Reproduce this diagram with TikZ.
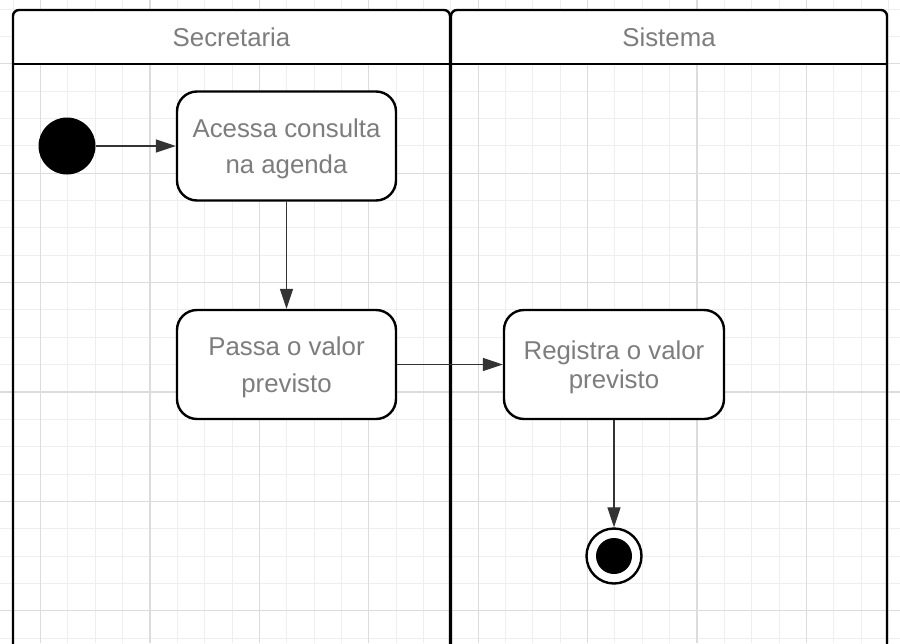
\documentclass[tikz,border=0pt]{standalone}
\usepackage{fontspec}
\setmainfont{Liberation Sans}
\usetikzlibrary{arrows.meta}
\definecolor{txt}{RGB}{125,125,125}
\definecolor{gminor}{RGB}{238,238,238}
\definecolor{gmajor}{RGB}{220,220,220}
\definecolor{arr}{RGB}{51,51,51}
\begin{document}
\begin{tikzpicture}[x=1pt,y=-1pt,
  lane/.style={draw=black,line width=2.4pt},
  hdr/.style={text=txt,font=\fontsize{25.8}{30}\selectfont,anchor=base,inner sep=0pt},
  act/.style={draw=black,line width=2.4pt,fill=white,rounded corners=20pt,
    minimum width=219pt,minimum height=109pt,align=center,text=txt,inner sep=0pt},
  flow/.style={draw=arr,line width=1.3pt,-{Triangle[length=20pt,width=13pt]}},
  startst/.style={circle,fill=black,minimum size=57pt,inner sep=0pt},
  endst/.style={circle,draw=black,line width=2.4pt,fill=white,minimum size=55pt,inner sep=0pt},
  endin/.style={circle,fill=black,minimum size=36pt,inner sep=0pt}]
\useasboundingbox (0,0) rectangle (900,643);
\clip (0,0) rectangle (900,643);
\fill[white] (0,0) rectangle (900,643);
% grid
\foreach \i in {0,...,32}{
  \pgfmathsetmacro\xx{13.25+27.35*\i}
  \pgfmathtruncatemacro\m{mod(\i,4)}
  \ifnum\m=1\relax\else\draw[gminor,line width=1pt] (\xx,0) -- (\xx,643);\fi
}
\foreach \j in {0,...,23}{
  \pgfmathsetmacro\yy{9.1+27.35*\j}
  \pgfmathtruncatemacro\m{mod(\j,4)}
  \ifnum\m=2\relax\else\draw[gminor,line width=1pt] (0,\yy) -- (900,\yy);\fi
}
\foreach \i in {1,5,...,29}{
  \pgfmathsetmacro\xx{13.25+27.35*\i}
  \draw[gmajor,line width=1.2pt] (\xx,0) -- (\xx,643);
}
\foreach \j in {2,6,...,22}{
  \pgfmathsetmacro\yy{9.1+27.35*\j}
  \draw[gmajor,line width=1.2pt] (0,\yy) -- (900,\yy);
}
% swimlane headers
\begin{scope}
  \clip (0,0) rectangle (900,64);
  \fill[white,rounded corners=6pt] (13,10) rectangle (450,90);
  \fill[white,rounded corners=6pt] (451,10) rectangle (887,90);
\end{scope}
\draw[lane,rounded corners=6pt] (13,700) -- (13,10) -- (450,10) -- (450,700);
\draw[lane,rounded corners=6pt] (451,700) -- (451,10) -- (887,10) -- (887,700);
\draw[lane] (13,64) -- (450,64);
\draw[lane] (451,64) -- (887,64);
\node[hdr] (h1) at (231.5,46.7) {Secretaria};
\node[hdr] (h2) at (669,46.7) {Sistema};
% nodes
\node[startst] (start) at (67,146) {};
\node[act,font=\fontsize{25.8}{35.5}\selectfont] (a1) at (286.5,146)
  {\rule{0pt}{24pt}Acessa consulta\\na agenda};
\node[act,font=\fontsize{25.8}{36.5}\selectfont] (a2) at (286.5,364.5)
  {\rule{0pt}{24pt}Passa o valor\\previsto};
\node[act,font=\fontsize{25.8}{29}\selectfont,minimum width=220pt] (a3) at (614,364.5)
  {\rule{0pt}{24pt}Registra o valor\\previsto};
\node[endst] (fin) at (614,556) {};
\node[endin] (finin) at (fin.center) {};
% flows
\draw[flow] (start) -- (a1);
\draw[flow] (a1) -- (a2);
\draw[flow] (a2) -- (a3);
\draw[flow] (a3) -- (fin);
\end{tikzpicture}
\end{document}
